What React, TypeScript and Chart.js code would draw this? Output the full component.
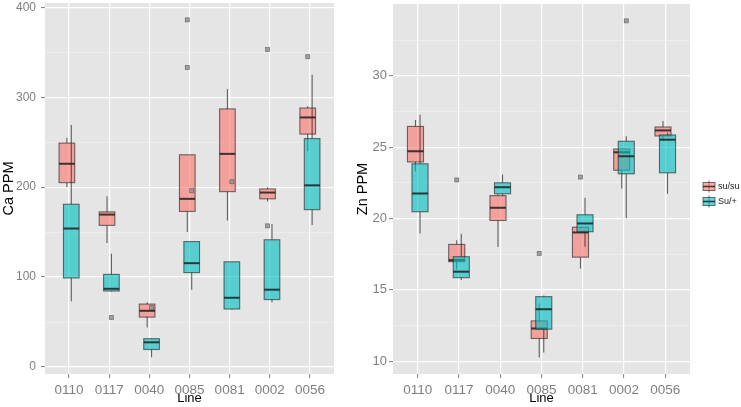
import { useEffect, useRef } from 'react';
import { Chart, registerables } from 'chart.js';

Chart.register(...registerables);

// ---------- data ----------
const lines = ['0110', '0117', '0040', '0085', '0081', '0002', '0056'];
const groups = ['su/su', 'Su/+'];

// Ca PPM, su/su
const caSuSuMin = [200, 138, 44, 150, 163, 184, 240];
const caSuSuQ1 = [205, 157.5, 55.5, 173, 195, 187, 259];
const caSuSuMed = [226, 169.5, 62.5, 187, 237, 194, 277.5];
const caSuSuQ3 = [249, 172.5, 70, 236, 287, 198, 288];
const caSuSuMax = [255, 190, 72, 236, 309, 200, 290];
const caSuSuOut = [[], [], [], [386, 333], [], [353, 157], [345]];
// Ca PPM, Su/+
const caSuPlusMin = [73, 84, 11, 86, 64, 72, 158];
const caSuPlusQ1 = [99, 84.5, 19.5, 105, 64.5, 75, 175];
const caSuPlusMed = [154, 87, 27.5, 115.5, 77, 86, 202];
const caSuPlusQ3 = [181, 103, 31.5, 139.5, 117, 141.5, 254];
const caSuPlusMax = [269, 126, 32, 139.5, 117, 159, 325];
const caSuPlusOut = [[], [55], [66], [196], [206], [], []];

// Zn PPM, su/su
const znSuSuMin = [23.3, 16.4, 18.0, 10.26, 16.5, 22.1, 25.5];
const znSuSuQ1 = [23.96, 16.97, 19.86, 11.59, 17.29, 23.38, 25.78];
const znSuSuMed = [24.71, 17.08, 20.75, 12.29, 19.02, 24.64, 26.17];
const znSuSuQ3 = [26.45, 18.18, 21.6, 12.82, 19.39, 24.87, 26.41];
const znSuSuMax = [26.9, 18.48, 21.7, 14.04, 19.4, 24.9, 26.83];
const znSuSuOut = [[], [22.7], [], [17.55], [22.9], [], []];
// Zn PPM, Su/+
const znSuPlusMin = [18.95, 15.69, 21.6, 10.6, 18.02, 20.02, 21.73];
const znSuPlusQ1 = [20.47, 15.85, 21.73, 12.24, 19.07, 23.13, 23.2];
const znSuPlusMed = [21.75, 16.27, 22.19, 13.64, 19.65, 24.36, 25.52];
const znSuPlusQ3 = [23.83, 17.32, 22.5, 14.52, 20.26, 25.41, 25.85];
const znSuPlusMax = [27.27, 18.93, 23.08, 14.6, 21.45, 25.76, 26.0];
const znSuPlusOut = [[], [], [], [], [], [33.85], []];

const caMajorTicks = [0, 100, 200, 300, 400];
const caMinorTicks = [50, 150, 250, 350];
const caRange = [-7.75, 404.75];
const znMajorTicks = [10, 15, 20, 25, 30];
const znMinorTicks = [12.5, 17.5, 22.5, 27.5, 32.5];
const znRange = [9.1, 35.03];

// ---------- styles ----------
const FONT = "'Liberation Sans', Arial, Helvetica, sans-serif";
const fills = ['rgba(248,118,109,0.62)', 'rgba(0,191,196,0.62)'];
const PANEL_BG = '#E5E5E5';
const BOX_HALF = 0.195; // in category units
const DODGE = 0.055; // in category units

type Series = {
  min: number[]; q1: number[]; med: number[]; q3: number[]; max: number[]; out: number[][];
};

const caSeries: Series[] = [
  { min: caSuSuMin, q1: caSuSuQ1, med: caSuSuMed, q3: caSuSuQ3, max: caSuSuMax, out: caSuSuOut },
  { min: caSuPlusMin, q1: caSuPlusQ1, med: caSuPlusMed, q3: caSuPlusQ3, max: caSuPlusMax, out: caSuPlusOut },
];
const znSeries: Series[] = [
  { min: znSuSuMin, q1: znSuSuQ1, med: znSuSuMed, q3: znSuSuQ3, max: znSuSuMax, out: znSuSuOut },
  { min: znSuPlusMin, q1: znSuPlusQ1, med: znSuPlusMed, q3: znSuPlusQ3, max: znSuPlusMax, out: znSuPlusOut },
];

const boxPlugin = {
  id: 'ggbox',
  beforeDraw(chart: any) {
    const { ctx, chartArea } = chart;
    ctx.save();
    ctx.fillStyle = PANEL_BG;
    ctx.fillRect(chartArea.left, chartArea.top, chartArea.right - chartArea.left, chartArea.bottom - chartArea.top);
    ctx.restore();
  },
  afterDatasetsDraw(chart: any) {
    const opts = chart.options.plugins.ggbox;
    if (!opts) return;
    const series: Series[] = opts.series;
    const xs = chart.scales.x;
    const ys = chart.scales.y;
    const ctx = chart.ctx;
    ctx.save();
    for (let i = 0; i < lines.length; i++) {
      series.forEach((s, g) => {
        const c = i + (g === 0 ? -DODGE : DODGE);
        const cx = xs.getPixelForValue(c);
        const x0 = xs.getPixelForValue(c - BOX_HALF);
        const x1 = xs.getPixelForValue(c + BOX_HALF);
        const yMin = ys.getPixelForValue(s.min[i]);
        const yQ1 = ys.getPixelForValue(s.q1[i]);
        const yMed = ys.getPixelForValue(s.med[i]);
        const yQ3 = ys.getPixelForValue(s.q3[i]);
        const yMax = ys.getPixelForValue(s.max[i]);
        // outliers
        s.out[i].forEach((v) => {
          const py = ys.getPixelForValue(v);
          ctx.fillStyle = 'rgba(150,150,150,0.9)';
          ctx.fillRect(cx - 2, py - 2, 4, 4);
          ctx.strokeStyle = 'rgba(70,70,70,0.6)';
          ctx.lineWidth = 0.8;
          ctx.strokeRect(cx - 2, py - 2, 4, 4);
        });
        // whiskers
        ctx.strokeStyle = 'rgba(40,40,40,0.7)';
        ctx.lineWidth = 1.1;
        ctx.beginPath();
        ctx.moveTo(cx, yQ3);
        ctx.lineTo(cx, yMax);
        ctx.moveTo(cx, yQ1);
        ctx.lineTo(cx, yMin);
        ctx.stroke();
        // box
        ctx.fillStyle = fills[g];
        ctx.fillRect(x0, yQ3, x1 - x0, yQ1 - yQ3);
        ctx.strokeStyle = 'rgba(40,40,40,0.65)';
        ctx.lineWidth = 1.1;
        ctx.strokeRect(x0, yQ3, x1 - x0, yQ1 - yQ3);
        // median
        ctx.strokeStyle = 'rgba(30,30,30,0.85)';
        ctx.lineWidth = 2;
        ctx.beginPath();
        ctx.moveTo(x0, yMed);
        ctx.lineTo(x1, yMed);
        ctx.stroke();
      });
    }
    ctx.restore();
  },
  afterDraw(chart: any) {
    const opts = chart.options.plugins.ggbox;
    if (!opts || !opts.legend) return;
    const { ctx, chartArea } = chart;
    const lx = chartArea.right + 13;
    const mid = (chartArea.top + chartArea.bottom) / 2 - 2.5;
    ctx.save();
    groups.forEach((name, g) => {
      const cy = mid + g * 15;
      const kx = lx + 6;
      ctx.strokeStyle = 'rgba(40,40,40,0.7)';
      ctx.lineWidth = 1;
      ctx.beginPath();
      ctx.moveTo(kx, cy - 6);
      ctx.lineTo(kx, cy + 6);
      ctx.stroke();
      ctx.fillStyle = fills[g];
      ctx.fillRect(lx, cy - 4, 12, 8);
      ctx.strokeStyle = 'rgba(40,40,40,0.65)';
      ctx.strokeRect(lx, cy - 4, 12, 8);
      ctx.strokeStyle = 'rgba(30,30,30,0.85)';
      ctx.lineWidth = 1.5;
      ctx.beginPath();
      ctx.moveTo(lx, cy);
      ctx.lineTo(lx + 12, cy);
      ctx.stroke();
      ctx.fillStyle = '#1a1a1a';
      ctx.font = `9px ${FONT}`;
      ctx.textBaseline = 'middle';
      ctx.textAlign = 'left';
      ctx.fillText(name, lx + 15, cy + 0.5);
    });
    ctx.restore();
  },
};

function makeConfig(
  series: Series[],
  range: number[],
  major: number[],
  minor: number[],
  yTitle: string,
  yWidth: number,
  yTickSize: number,
  yTickPad: number,
  padding: any,
  legend: boolean
): any {
  const all = [...major, ...minor].sort((a, b) => a - b);
  const isMajor = (v: number) => major.includes(v);
  return {
    type: 'scatter',
    data: {
      datasets: groups.map((g) => ({ label: g, data: [] })),
    },
    plugins: [boxPlugin],
    options: {
      animation: false,
      responsive: false,
      devicePixelRatio: 1,
      events: [],
      layout: { padding },
      plugins: {
        legend: { display: false },
        tooltip: { enabled: false },
        ggbox: { series, legend },
      },
      scales: {
        x: {
          type: 'linear',
          min: -0.6,
          max: lines.length - 1 + 0.6,
          afterBuildTicks: (s: any) => {
            s.ticks = lines.map((_, i) => ({ value: i }));
          },
          afterFit: (s: any) => {
            s.height = 33;
            s.paddingLeft = 0;
            s.paddingRight = 0;
          },
          border: { display: false },
          grid: {
            color: '#FFFFFF',
            lineWidth: 1.2,
            tickLength: 4,
            tickColor: '#7F7F7F',
            tickWidth: 1,
          },
          ticks: {
            autoSkip: false,
            maxRotation: 0,
            padding: 4,
            color: '#7F7F7F',
            font: { family: FONT, size: 13.5 },
            callback: (v: number) => lines[Math.round(v)],
          },
          title: {
            display: true,
            text: 'Line',
            color: '#000000',
            font: { family: FONT, size: 13, lineHeight: 1 },
            padding: { top: 0, bottom: 2 },
          },
        },
        y: {
          type: 'linear',
          min: range[0],
          max: range[1],
          afterBuildTicks: (s: any) => {
            s.ticks = all.map((v) => ({ value: v }));
          },
          afterFit: (s: any) => {
            s.width = yWidth;
            s.paddingTop = 0;
            s.paddingBottom = 0;
          },
          border: { display: false },
          grid: {
            color: (c: any) => (c.tick && isMajor(c.tick.value) ? '#FFFFFF' : '#F2F2F2'),
            lineWidth: (c: any) => (c.tick && isMajor(c.tick.value) ? 1.2 : 0.6),
            tickLength: 4,
            tickColor: (c: any) => (c.tick && isMajor(c.tick.value) ? '#7F7F7F' : 'rgba(0,0,0,0)'),
            tickWidth: 1,
          },
          ticks: {
            padding: yTickPad,
            color: '#7F7F7F',
            font: { family: FONT, size: yTickSize },
            callback: (v: number) => (isMajor(v) ? String(v) : ''),
          },
          title: {
            display: true,
            text: yTitle,
            color: '#000000',
            font: { family: FONT, size: 14.5, lineHeight: 1 },
            padding: { top: 2, bottom: 0 },
          },
        },
      },
    },
  };
}

function Panel(props: { cfg: () => any; left: number; width: number }) {
  const ref = useRef<HTMLCanvasElement | null>(null);
  useEffect(() => {
    if (!ref.current) return;
    const chart = new Chart(ref.current, props.cfg());
    return () => chart.destroy();
  }, []);
  return (
    <canvas
      ref={ref}
      width={props.width}
      height={407}
      style={{ position: 'absolute', left: props.left, top: 0, width: props.width, height: 407 }}
    />
  );
}

export default function App() {
  return (
    <div style={{ position: 'fixed', left: 0, top: 0, width: 741, height: 407, background: '#FFFFFF', overflow: 'hidden' }}>
      <Panel
        left={0}
        width={345}
        cfg={() =>
          makeConfig(caSeries, caRange, caMajorTicks, caMinorTicks, 'Ca PPM', 45, 12, 5, { top: 3, right: 11, bottom: 0, left: 0 }, false)
        }
      />
      <Panel
        left={345}
        width={396}
        cfg={() =>
          makeConfig(znSeries, znRange, znMajorTicks, znMinorTicks, 'Zn PPM', 39, 13, 2, { top: 4, right: 51, bottom: 0, left: 9 }, true)
        }
      />
    </div>
  );
}
